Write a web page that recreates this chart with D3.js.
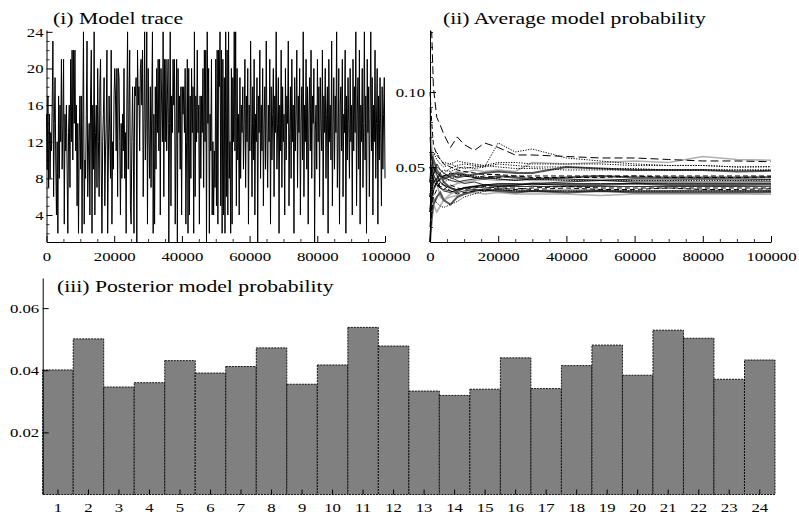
<!DOCTYPE html>
<html><head><meta charset="utf-8">
<script src="https://cdn.jsdelivr.net/npm/d3@7/dist/d3.min.js"></script>
<style>
body{margin:0;background:#fff}
text{font-family:"Liberation Serif","Times New Roman",serif;fill:#000}
</style>
</head><body>
<svg id="c" width="799" height="514"></svg>
<script>
// ---------- DATA ----------
const traceModels = [
15,9,17,7,15,8,13,11,16,23,6,14,19,10,4,12,2,17,8,16,12,21,9,14,21,3,15,11,16,9,2,13,16,7,21,12,22,10,22,14,22,11,16,5,14,2,12,17,
9,17,2,14,24,3,10,8,15,23,6,11,14,4,17,22,2,16,9,24,4,13,16,7,20,12,6,18,21,9,2,12,15,19,5,11,14,22,2,10,17,13,8,22,3,12,9,17,
20,17,11,20,6,20,19,12,4,14,8,15,11,20,8,13,2,16,24,9,15,22,5,3,12,18,12,2,18,17,19,1,22,16,18,11,20,21,16,22,6,14,24,10,14,24,3,20,
13,8,18,7,16,24,2,15,3,18,9,20,13,21,11,21,4,20,16,12,24,6,21,12,21,11,17,21,1,14,24,5,17,13,21,16,21,3,12,21,1,20,13,17,9,18,4,18,
15,18,13,20,3,12,21,2,20,4,17,8,20,13,18,2,24,6,17,12,22,13,16,3,17,8,17,13,20,7,22,12,22,1,24,14,20,2,15,11,21,4,12,4,11,7,21,5,
22,3,22,18,24,5,22,2,21,4,19,2,24,6,22,4,24,8,12,2,20,3,19,12,24,11,24,5,20,10,15,4,19,8,16,13,18,9,14,21,7,17,12,20,3,16,11,23,
14,6,18,10,21,4,15,12,19,1,17,13,22,8,16,11,20,5,14,18,9,23,13,7,16,12,21,3,18,10,15,20,6,17,13,24,9,14,19,2,16,11,22,7,18,12,15,4,
20,10,17,14,23,5,13,18,8,21,12,16,2,19,11,15,22,7,17,13,20,4,14,18,10,24,6,16,12,21,9,18,3,15,19,11,22,8,17,14,20,1,13,16,9,21,12,18,
6,19,14,11,22,4,17,13,20,8,15,18,2,21,12,16,10,23,5,14,19,9,17,13,24,7,12,20,3,16,18,11,21,6,15,13,22,2,17,10,19,14,8,20,12,16,4,21,
11,18,13,24,5,15,19,9,22,3,16,12,20,7,14,24,10,17,2,21,13,18,6,15,24,11,19,4,16,12,22,8,14,20,3,17,10,19,13,5,18,9,15,19,8];
const traceIterMax = 100000;

const avgIters = [0,500,1000,2000,3000,4000,6000,8000,10000,13000,16000,20000,25000,30000,40000,50000,60000,70000,80000,90000,100000];
const avgModel1  = [0.000,0.030,0.045,0.052,0.048,0.046,0.043,0.041,0.039,0.040,0.038,0.037,0.038,0.039,0.040,0.041,0.040,0.040,0.040,0.040,0.0401];
const avgModel2  = [0.060,0.045,0.040,0.042,0.046,0.048,0.047,0.049,0.050,0.049,0.050,0.066,0.060,0.062,0.056,0.054,0.052,0.051,0.051,0.050,0.0501];
const avgModel3  = [0.090,0.060,0.045,0.040,0.030,0.028,0.032,0.034,0.036,0.035,0.034,0.034,0.035,0.034,0.035,0.035,0.034,0.034,0.035,0.034,0.0346];
const avgModel4  = [0.010,0.025,0.035,0.040,0.037,0.035,0.038,0.036,0.035,0.036,0.037,0.036,0.035,0.036,0.037,0.036,0.036,0.036,0.036,0.036,0.0360];
const avgModel5  = [0.040,0.050,0.055,0.048,0.045,0.042,0.044,0.046,0.045,0.043,0.042,0.044,0.043,0.042,0.043,0.044,0.043,0.043,0.043,0.043,0.0431];
const avgModel6  = [0.030,0.040,0.050,0.045,0.040,0.038,0.036,0.035,0.036,0.037,0.038,0.039,0.039,0.038,0.039,0.039,0.039,0.039,0.039,0.039,0.0391];
const avgModel7  = [0.050,0.040,0.042,0.038,0.036,0.040,0.042,0.044,0.045,0.044,0.043,0.042,0.041,0.042,0.041,0.041,0.041,0.041,0.041,0.041,0.0412];
const avgModel8  = [0.020,0.030,0.035,0.040,0.042,0.044,0.045,0.043,0.044,0.045,0.046,0.047,0.046,0.046,0.050,0.049,0.048,0.048,0.048,0.047,0.0475];
const avgModel9  = [0.000,0.020,0.030,0.035,0.040,0.038,0.034,0.032,0.033,0.034,0.035,0.036,0.036,0.035,0.036,0.035,0.035,0.036,0.035,0.035,0.0355];
const avgModel10 = [0.070,0.055,0.050,0.046,0.044,0.043,0.041,0.040,0.041,0.042,0.043,0.042,0.041,0.042,0.042,0.041,0.042,0.042,0.042,0.042,0.0417];
const avgModel11 = [0.045,0.048,0.050,0.047,0.044,0.042,0.045,0.047,0.046,0.048,0.047,0.048,0.047,0.053,0.052,0.053,0.054,0.053,0.057,0.055,0.0545];
const avgModel12 = [0.030,0.050,0.060,0.055,0.052,0.050,0.052,0.054,0.053,0.052,0.051,0.050,0.049,0.049,0.048,0.048,0.048,0.048,0.048,0.048,0.0478];
const avgModel13 = [0.000,0.015,0.025,0.030,0.033,0.028,0.025,0.030,0.032,0.034,0.035,0.034,0.033,0.034,0.033,0.034,0.033,0.033,0.033,0.033,0.0333];
const avgModel14 = [0.020,0.030,0.025,0.020,0.024,0.028,0.030,0.031,0.032,0.033,0.032,0.033,0.032,0.032,0.032,0.031,0.032,0.032,0.032,0.032,0.0319];
const avgModel15 = [0.040,0.035,0.030,0.026,0.024,0.023,0.025,0.027,0.030,0.032,0.034,0.035,0.034,0.034,0.034,0.034,0.034,0.034,0.034,0.034,0.0339];
const avgModel16 = [0.100,0.080,0.065,0.058,0.055,0.052,0.050,0.048,0.047,0.046,0.045,0.045,0.044,0.044,0.044,0.044,0.044,0.044,0.044,0.044,0.0440];
const avgModel17 = [0.050,0.045,0.040,0.038,0.036,0.035,0.034,0.033,0.034,0.035,0.034,0.035,0.034,0.034,0.034,0.034,0.034,0.034,0.034,0.034,0.0341];
const avgModel18 = [0.080,0.060,0.048,0.044,0.040,0.038,0.037,0.039,0.040,0.041,0.042,0.041,0.042,0.041,0.041,0.042,0.041,0.041,0.042,0.041,0.0415];
const avgModel19 = [0.020,0.040,0.045,0.050,0.048,0.046,0.049,0.051,0.052,0.051,0.050,0.052,0.051,0.050,0.050,0.049,0.049,0.048,0.048,0.048,0.0481];
const avgModel20 = [0.030,0.035,0.040,0.042,0.045,0.040,0.036,0.034,0.036,0.037,0.038,0.038,0.038,0.039,0.038,0.038,0.039,0.038,0.038,0.038,0.0384];
const avgModel21 = [0.140,0.140,0.103,0.083,0.078,0.072,0.063,0.070,0.065,0.061,0.066,0.063,0.058,0.058,0.057,0.056,0.056,0.055,0.054,0.054,0.0535];
const avgModel22 = [0.060,0.055,0.058,0.060,0.055,0.053,0.052,0.050,0.049,0.050,0.051,0.053,0.053,0.052,0.052,0.052,0.051,0.051,0.051,0.050,0.0503];
const avgModel23 = [0.040,0.050,0.045,0.040,0.036,0.034,0.033,0.035,0.036,0.037,0.036,0.037,0.037,0.037,0.037,0.037,0.037,0.037,0.037,0.037,0.0371];
const avgModel24 = [0.050,0.045,0.042,0.040,0.042,0.044,0.046,0.045,0.044,0.043,0.044,0.043,0.044,0.043,0.043,0.043,0.044,0.043,0.043,0.043,0.0433];
const avgSeries = [avgModel1,avgModel2,avgModel3,avgModel4,avgModel5,avgModel6,avgModel7,avgModel8,avgModel9,avgModel10,avgModel11,avgModel12,avgModel13,avgModel14,avgModel15,avgModel16,avgModel17,avgModel18,avgModel19,avgModel20,avgModel21,avgModel22,avgModel23,avgModel24];

const modelLabels = ["1","2","3","4","5","6","7","8","9","10","11","12","13","14","15","16","17","18","19","20","21","22","23","24"];
const posterior = [0.0401,0.0501,0.0346,0.0360,0.0431,0.0391,0.0412,0.0472,0.0355,0.0417,0.0538,0.0478,0.0333,0.0319,0.0339,0.0440,0.0341,0.0415,0.0481,0.0384,0.0529,0.0503,0.0371,0.0433];

const traceTicks = [4,8,12,16,20,24];
const iterTicks = [0,20000,40000,60000,80000,100000];
const avgTicks = [0.05,0.10];
const postTicks = [0.02,0.04,0.06];
const titles = ["(i) Model trace","(ii) Average model probability","(iii) Posterior model probability"];

// ---------- DRAWING ----------
const svg = d3.select("#c");
const SX = 1.24;
const tickFont = 13.5, titleFont = 17.5;

function stretch(sel, sx){
  sel.each(function(){
    const t = d3.select(this);
    const x = +(t.attr("x") || 0);
    t.attr("x", x / sx).attr("transform", `scale(${sx},1)`);
  });
}
function styleAxis(g){
  g.attr("font-family",'"Liberation Serif",serif');
  g.selectAll("path.domain").attr("stroke","#000").attr("stroke-width",1);
  g.selectAll(".tick line").attr("stroke","#000").attr("stroke-width",1);
  g.selectAll("text").attr("font-size",tickFont).attr("fill","#000");
  stretch(g.selectAll("text"), SX);
}
function minor(g){
  g.select("path.domain").remove();
  g.selectAll("line").attr("stroke","#000").attr("stroke-width",0.8);
}
function title(txt, x, y){
  svg.append("text").attr("x", x/SX).attr("y", y).attr("transform",`scale(${SX},1)`)
    .attr("font-size", titleFont).text(txt);
}

// Panel (i)
{
  const x = d3.scaleLinear().domain([0, traceIterMax]).range([46.5, 385]);
  const y = d3.scaleLinear().domain([1.05, 24.2]).range([242, 30]);
  const n = traceModels.length;
  const line = d3.line().x((d,i)=>x(i*traceIterMax/(n-1))).y(d=>y(d));
  svg.append("path").datum(traceModels).attr("d",line)
    .attr("fill","none").attr("stroke","#000").attr("stroke-width",1).attr("stroke-linejoin","miter");
  const gy = svg.append("g").attr("transform","translate(46.5,0)")
    .call(d3.axisLeft(y).tickValues(traceTicks).tickSizeInner(-6).tickSizeOuter(0).tickPadding(3));
  styleAxis(gy);
  minor(svg.append("g").attr("transform","translate(46.5,0)")
    .call(d3.axisLeft(y).tickValues(d3.range(2,25).filter(v=>v%4)).tickSizeInner(-3).tickSizeOuter(0).tickFormat("")));
  const gx = svg.append("g").attr("transform","translate(0,242)")
    .call(d3.axisBottom(x).tickValues(iterTicks).tickSizeInner(-6).tickSizeOuter(0).tickPadding(9).tickFormat(d3.format("d")));
  styleAxis(gx);
  minor(svg.append("g").attr("transform","translate(0,242)")
    .call(d3.axisBottom(x).tickValues(d3.range(5000,100000,5000).filter(v=>v%20000)).tickSizeInner(-3).tickSizeOuter(0).tickFormat("")));
  title(titles[0], 53, 24);
}

// Panel (ii)
{
  const x = d3.scaleLinear().domain([0, 100000]).range([430, 771]);
  const y = d3.scaleLinear().domain([0, 0.1413]).range([242, 30]);
  const styles = {
    solid:{c:"#000",w:0.8,d:null},
    dashed:{c:"#000",w:1,d:"5,3"},
    bigdash:{c:"#000",w:1,d:"8,4"},
    dotted:{c:"#000",w:1,d:"1.2,1.4"},
    gray:{c:"#b0b0b0",w:1.6,d:null},
    thick:{c:"#555",w:2,d:null}
  };
  const styleOf = ["solid","dotted","gray","dashed","thick","solid","dotted","thick","dashed","solid","gray","dotted",
                   "thick","gray","dotted","dashed","solid","gray","dotted","thick","bigdash","dotted","solid","dashed"];
  const line = d3.line().x((d,i)=>x(avgIters[i])).y(d=>y(d));
  const rank = s => (s==="gray"?0:s==="thick"?1:2);
  const order = d3.range(avgSeries.length).sort((a,b)=>rank(styleOf[a]) - rank(styleOf[b]));
  order.forEach(k=>{
    const s = styles[styleOf[k]];
    svg.append("path").datum(avgSeries[k]).attr("d",line)
      .attr("fill","none").attr("stroke",s.c).attr("stroke-width",s.w)
      .attr("stroke-dasharray",s.d);
  });
  const gy = svg.append("g").attr("transform","translate(430,0)")
    .call(d3.axisLeft(y).tickValues(avgTicks).tickSizeInner(-6).tickSizeOuter(0).tickPadding(5).tickFormat(d3.format(".2f")));
  styleAxis(gy);
  minor(svg.append("g").attr("transform","translate(430,0)")
    .call(d3.axisLeft(y).tickValues([0.01,0.02,0.03,0.04,0.06,0.07,0.08,0.09,0.11,0.12,0.13,0.14]).tickSizeInner(-3).tickSizeOuter(0).tickFormat("")));
  const gx = svg.append("g").attr("transform","translate(0,242)")
    .call(d3.axisBottom(x).tickValues(iterTicks).tickSizeInner(-6).tickSizeOuter(0).tickPadding(9).tickFormat(d3.format("d")));
  styleAxis(gx);
  minor(svg.append("g").attr("transform","translate(0,242)")
    .call(d3.axisBottom(x).tickValues(d3.range(5000,100000,5000).filter(v=>v%20000)).tickSizeInner(-3).tickSizeOuter(0).tickFormat("")));
  title(titles[1], 443, 24);
}

// Panel (iii)
{
  const x = d3.scaleBand().domain(modelLabels).range([42.7, 775]).padding(0);
  const y = d3.scaleLinear().domain([0, 0.0697]).range([494.5, 278]);
  svg.append("g").selectAll("rect").data(posterior).join("rect")
    .attr("x",(d,i)=>x(modelLabels[i])).attr("width",x.bandwidth())
    .attr("y",d=>y(d)).attr("height",d=>y(0)-y(d))
    .attr("fill","#808080").attr("stroke","#000").attr("stroke-width",0.9).attr("stroke-dasharray","2,1");
  const gy = svg.append("g").attr("transform","translate(42.7,0)")
    .call(d3.axisLeft(y).tickValues(postTicks).tickSizeInner(-6).tickSizeOuter(0).tickPadding(3.5).tickFormat(d3.format(".2f")));
  styleAxis(gy);
  const gx = svg.append("g").attr("transform","translate(0,494.5)")
    .call(d3.axisBottom(x).tickSizeInner(-5).tickSizeOuter(0).tickPadding(8));
  gx.select("path.domain").remove();
  styleAxis(gx);
  title(titles[2], 57, 292);
}
</script>
</body></html>
